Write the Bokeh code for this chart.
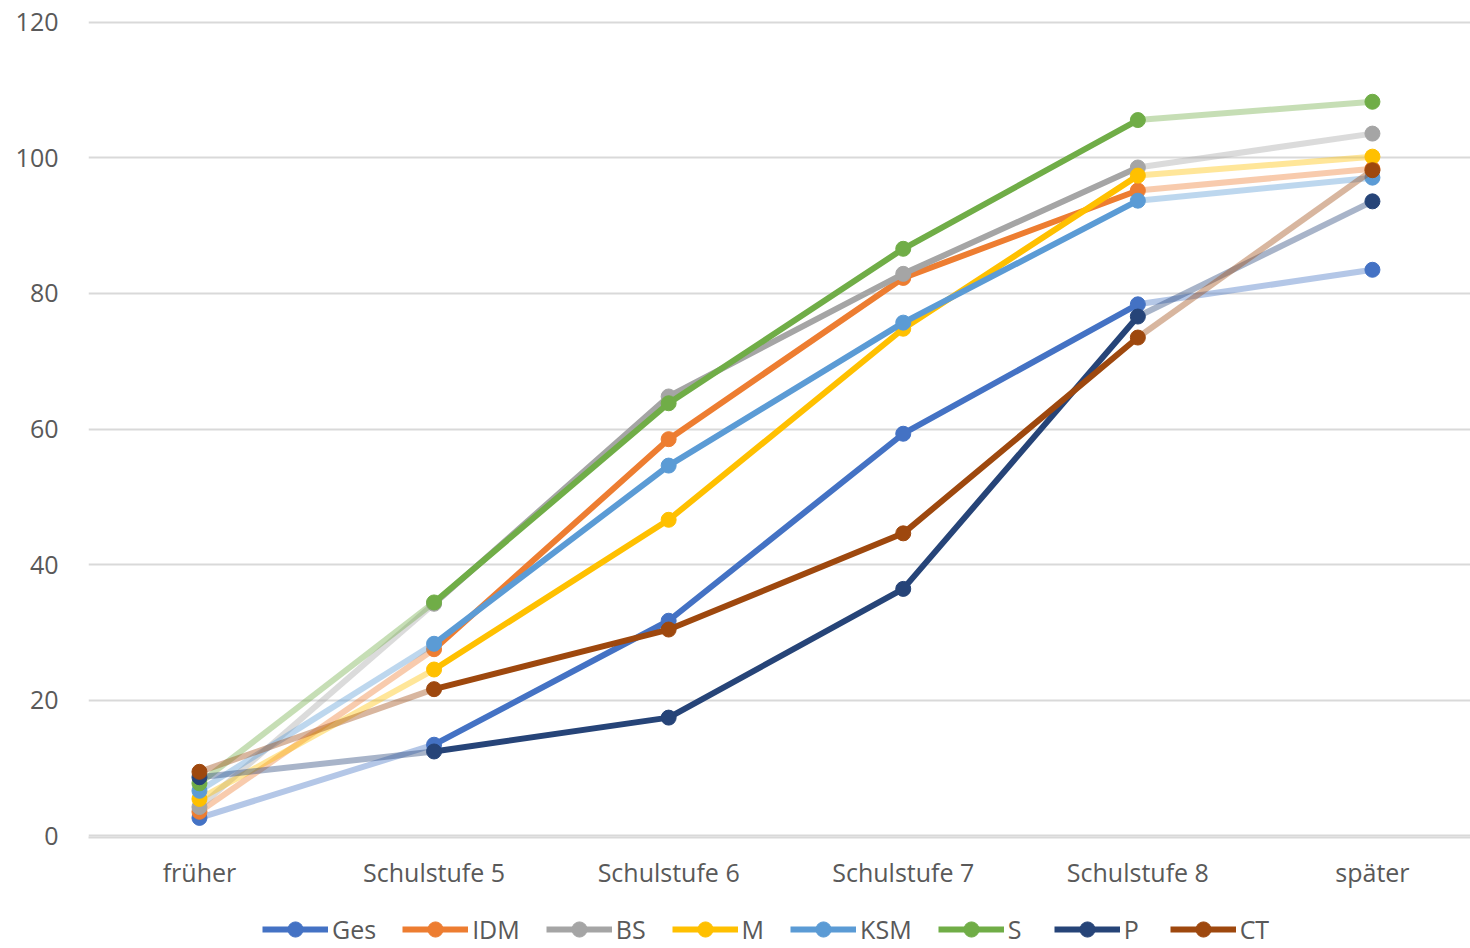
from bokeh.plotting import figure
from bokeh.layouts import column
from bokeh.models import Range1d, FixedTicker, Legend, LegendItem
from bokeh.embed import file_html
from bokeh.resources import INLINE

categories = ["früher", "Schulstufe 5", "Schulstufe 6", "Schulstufe 7", "Schulstufe 8", "später"]
y_ticks = [0, 20, 40, 60, 80, 100, 120]

series_names = ["Ges", "IDM", "BS", "M", "KSM", "S", "P", "CT"]
ges = [2.6, 13.4, 31.7, 59.3, 78.4, 83.5]
idm = [3.5, 27.5, 58.5, 82.3, 95.2, 98.4]
bs = [4.2, 34.2, 64.8, 82.9, 98.6, 103.6]
m = [5.4, 24.5, 46.6, 74.8, 97.4, 100.2]
ksm = [6.6, 28.3, 54.6, 75.7, 93.7, 97.1]
s = [7.7, 34.4, 63.8, 86.6, 105.6, 108.3]
p = [8.6, 12.4, 17.4, 36.4, 76.6, 93.6]
ct = [9.4, 21.6, 30.4, 44.6, 73.5, 98.2]
series_values = [ges, idm, bs, m, ksm, s, p, ct]
series_colors = ["#4472C4", "#ED7D31", "#A5A5A5", "#FFC000", "#5B9BD5", "#70AD47", "#264478", "#9E480E"]

TEXT = "#595959"
GRID = "#D9D9D9"
LW = 6
MS = 15
MAIN_H = 892
FRAME_LEFT = 88

p_fig = figure(width=1470, height=MAIN_H, output_backend="svg", toolbar_location=None,
               x_range=Range1d(-0.473, 5.418), y_range=Range1d(-0.295, 120.295),
               min_border_left=FRAME_LEFT, min_border_right=0, min_border_top=20,
               min_border_bottom=MAIN_H - 837)
p_fig.outline_line_color = None
p_fig.border_fill_color = "white"

xs = list(range(len(categories)))

for name, vals, col in zip(series_names, series_values, series_colors):
    p_fig.line(xs[0:2], vals[0:2], line_color=col, line_alpha=0.4, line_width=LW)
    p_fig.line(xs[1:5], vals[1:5], line_color=col, line_width=LW, line_join="round")
    p_fig.line(xs[4:6], vals[4:6], line_color=col, line_alpha=0.4, line_width=LW)
    p_fig.scatter(xs, vals, marker="circle", size=MS, fill_color=col, line_color=col)

p_fig.xaxis.ticker = FixedTicker(ticks=xs)
p_fig.xaxis.major_label_overrides = {i: c for i, c in enumerate(categories)}
p_fig.xaxis.axis_line_color = GRID
p_fig.xaxis.axis_line_width = 2
p_fig.xaxis.major_tick_line_color = None
p_fig.xaxis.minor_tick_line_color = None
p_fig.xaxis.major_tick_out = 0
p_fig.xaxis.major_label_standoff = 17
p_fig.xaxis.major_label_text_font = "Open Sans"
p_fig.xaxis.major_label_text_font_size = "25px"
p_fig.xaxis.major_label_text_color = TEXT

p_fig.yaxis.ticker = FixedTicker(ticks=y_ticks)
p_fig.yaxis.axis_line_color = None
p_fig.yaxis.major_tick_line_color = None
p_fig.yaxis.minor_tick_line_color = None
p_fig.yaxis.major_tick_out = 0
p_fig.yaxis.major_label_standoff = 30
p_fig.yaxis.major_label_text_font = "Open Sans"
p_fig.yaxis.major_label_text_font_size = "25px"
p_fig.yaxis.major_label_text_color = TEXT

p_fig.xgrid.grid_line_color = None
p_fig.ygrid.grid_line_color = GRID
p_fig.ygrid.grid_line_width = 2

# legend strip below the chart
leg_fig = figure(width=1470, height=948 - MAIN_H, output_backend="svg", toolbar_location=None,
                 x_range=Range1d(0, 1), y_range=Range1d(0, 1),
                 x_axis_location=None, y_axis_location=None,
                 min_border=0, min_border_left=0, min_border_right=0,
                 min_border_top=0, min_border_bottom=0)
leg_fig.grid.visible = False
leg_fig.outline_line_color = None
leg_fig.border_fill_color = "white"

items = []
for name, col in zip(series_names, series_colors):
    ln = leg_fig.line([5, 6], [5, 6], line_color=col, line_width=LW)
    sc = leg_fig.scatter([5], [5], marker="circle", size=MS, fill_color=col, line_color=col)
    items.append(LegendItem(label=name, renderers=[ln, sc]))

legend = Legend(items=items, orientation="horizontal", location=(262 - FRAME_LEFT, 0),
                label_text_font="Open Sans",
                label_text_font_size="25px", label_text_color=TEXT,
                glyph_width=66, glyph_height=38, label_standoff=4, spacing=26,
                padding=0, margin=0, border_line_color=None,
                background_fill_alpha=0)
leg_fig.add_layout(legend, "center")

layout = column(p_fig, leg_fig, spacing=0)
open("out.html", "w").write(file_html(layout, INLINE))
